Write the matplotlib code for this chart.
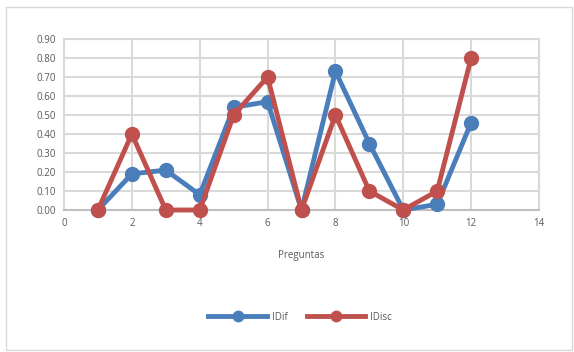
import matplotlib.pyplot as plt
from matplotlib.patches import Rectangle

# data
preguntas = [1, 2, 3, 4, 5, 6, 7, 8, 9, 10, 11, 12]
idif = [0.00, 0.19, 0.21, 0.08, 0.54, 0.57, 0.00, 0.73, 0.35, 0.00, 0.03, 0.46]
idisc = [0.00, 0.40, 0.00, 0.00, 0.50, 0.70, 0.00, 0.50, 0.10, 0.00, 0.10, 0.80]
x_ticks = [0, 2, 4, 6, 8, 10, 12, 14]
y_ticks = [0.0, 0.1, 0.2, 0.3, 0.4, 0.5, 0.6, 0.7, 0.8, 0.9]

blue = '#4a7ebb'
red = '#c0504d'
grid = '#d9d9d9'
txt = '#595959'

plt.rcParams['font.family'] = ['Open Sans', 'DejaVu Sans']

fig = plt.figure(figsize=(5.74, 3.52), dpi=100)
ax = fig.add_axes([64/574, 1 - 210/352, (539 - 64)/574, (210 - 39)/352])

# outer chart border
fig.patches.append(Rectangle((6/574, 2/352), 566/574, 343/352, transform=fig.transFigure,
                             fill=False, edgecolor='#d9d9d9', linewidth=1))

ax.plot(preguntas, idif, color=blue, lw=3.5, marker='o', ms=10, label='IDif', zorder=3,
        clip_on=False)
ax.plot(preguntas, idisc, color=red, lw=3.5, marker='o', ms=10, label='IDisc', zorder=4,
        clip_on=False)

ax.set_xlim(0, 14)
ax.set_ylim(0, 0.9)
ax.set_xticks(x_ticks)
ax.set_yticks(y_ticks)
ax.set_yticklabels(['%.2f' % v for v in y_ticks])
ax.grid(True, color=grid, lw=1.5, zorder=0)
ax.set_axisbelow(True)
for s in ['top', 'right', 'left']:
    ax.spines[s].set_color(grid)
    ax.spines[s].set_linewidth(1.5)
ax.spines['bottom'].set_color('#bfbfbf')
ax.spines['bottom'].set_linewidth(1.5)
ax.tick_params(length=0, labelsize=7, labelcolor=txt, pad=6)
ax.set_xlabel('Preguntas', fontsize=7, color=txt, labelpad=15)

fig.legend(loc='center', bbox_to_anchor=(300/574, 1 - 317/352), ncol=2, frameon=False,
           fontsize=7, labelcolor=txt, handlelength=6, columnspacing=2.0, handletextpad=0.5,
           markerscale=0.75)

plt.savefig('out.png', dpi=100)
